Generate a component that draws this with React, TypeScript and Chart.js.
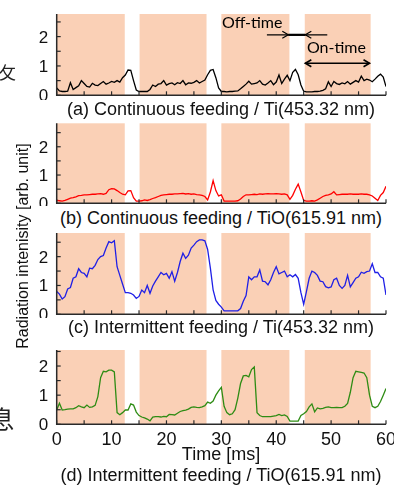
import React, { useEffect, useRef } from 'react';
import { Chart, registerables } from 'chart.js';

Chart.register(...registerables);

// ---------- data ----------
const TIME = [
  0, 0.5, 1, 1.5, 2, 2.5, 3, 3.5, 4, 4.5,
  5, 5.5, 6, 6.5, 7, 7.5, 8, 8.5, 9, 9.5,
  10, 10.5, 11, 11.5, 12, 12.5, 13, 13.5, 14, 14.5,
  15, 15.5, 16, 16.5, 17, 17.5, 18, 18.5, 19, 19.5,
  20, 20.5, 21, 21.5, 22, 22.5, 23, 23.5, 24, 24.5,
  25, 25.5, 26, 26.5, 27, 27.5, 28, 28.5, 29, 29.5,
  30, 30.5, 31, 31.5, 32, 32.5, 33, 33.5, 34, 34.5,
  35, 35.5, 36, 36.5, 37, 37.5, 38, 38.5, 39, 39.5,
  40, 40.5, 41, 41.5, 42, 42.5, 43, 43.5, 44, 44.5,
  45, 45.5, 46, 46.5, 47, 47.5, 48, 48.5, 49, 49.5,
  50, 50.5, 51, 51.5, 52, 52.5, 53, 53.5, 54, 54.5,
  55, 55.5, 56, 56.5, 57, 57.5, 58, 58.5, 59, 59.5,
  60,
];

const TI_CONTINUOUS = [
  0.25, 0.15, 0.13, 0.13, 0.14, 0.43, 0.2, 0.26, 0.32, 0.5,
  0.4, 0.3, 0.28, 0.41, 0.35, 0.33, 0.4, 0.47, 0.38, 0.42,
  0.47, 0.44, 0.5, 0.45, 0.6, 0.69, 0.86, 0.85, 0.5, 0.18,
  0.13, 0.13, 0.13, 0.13, 0.2, 0.35, 0.3, 0.38, 0.4, 0.5,
  0.35, 0.4, 0.42, 0.36, 0.43, 0.4, 0.5, 0.36, 0.42, 0.41,
  0.44, 0.5, 0.42, 0.47, 0.52, 0.7, 0.85, 0.88, 0.6, 0.25,
  0.13, 0.13, 0.12, 0.13, 0.13, 0.14, 0.15, 0.22, 0.3, 0.38,
  0.48, 0.38, 0.4, 0.42, 0.5, 0.38, 0.35, 0.42, 0.5, 0.36,
  0.45, 0.69, 0.4, 0.55, 0.68, 0.5, 0.78, 0.88, 0.7, 0.35,
  0.14, 0.12, 0.12, 0.12, 0.13, 0.13, 0.14, 0.17, 0.22, 0.46,
  0.3, 0.47, 0.4, 0.37, 0.42, 0.39, 0.47, 0.38, 0.44, 0.5,
  0.45, 0.65, 0.5, 0.55, 0.52, 0.46, 0.55, 0.65, 0.72, 0.62,
  0.3,
];

const TIO_CONTINUOUS = [
  0.1, 0.09, 0.08, 0.1, 0.14, 0.18, 0.2, 0.23, 0.27, 0.28,
  0.3, 0.3, 0.31, 0.32, 0.32, 0.33, 0.34, 0.32, 0.35, 0.48,
  0.52, 0.51, 0.45, 0.38, 0.32, 0.3, 0.44, 0.45, 0.2, 0.08,
  0.08, 0.09, 0.12, 0.1, 0.13, 0.17, 0.2, 0.24, 0.28, 0.3,
  0.31, 0.32, 0.32, 0.33, 0.33, 0.34, 0.35, 0.33, 0.34, 0.32,
  0.33, 0.31, 0.3, 0.28, 0.24, 0.12, 0.4, 0.8, 0.45, 0.26,
  0.3, 0.08, 0.08, 0.08, 0.08, 0.08, 0.09, 0.15, 0.24, 0.3,
  0.3, 0.31, 0.32, 0.31, 0.33, 0.32, 0.33, 0.34, 0.33, 0.33,
  0.34, 0.33, 0.32, 0.33, 0.3, 0.14, 0.28, 0.5, 0.68, 0.4,
  0.1, 0.08, 0.08, 0.09, 0.08, 0.12, 0.18, 0.24, 0.28, 0.3,
  0.33, 0.41, 0.3, 0.31, 0.32, 0.32, 0.32, 0.33, 0.32, 0.32,
  0.32, 0.33, 0.32, 0.32, 0.3, 0.26, 0.18, 0.1, 0.28, 0.38,
  0.6,
];

const TI_INTERMITTENT = [
  0.79, 0.7, 0.53, 0.61, 0.88, 0.93, 1.25, 1.3, 1.58, 1.45,
  1.42, 1.3, 1.6, 1.58, 1.7, 1.9, 2.0, 2.04, 2.3, 2.52,
  2.48, 2.55, 1.65, 1.35, 1.05, 0.75, 0.75, 0.73, 0.67, 0.55,
  0.62, 0.84, 0.75, 1.0, 0.73, 0.98, 1.15, 1.3, 1.45, 1.37,
  1.42, 1.25, 1.48, 1.15, 1.45, 1.83, 2.12, 1.94, 2.05, 2.3,
  2.4, 2.52, 2.58, 2.58, 2.55, 2.25, 1.6, 0.85, 0.48, 0.35,
  0.25, 0.12, 0.12, 0.12, 0.12, 0.12, 0.12, 0.2, 0.45, 0.65,
  1.3, 1.2, 1.3, 1.3, 1.54, 1.15, 1.13, 1.02, 1.2, 1.45,
  1.65, 1.4, 1.45, 1.5, 1.3, 1.37, 1.3, 1.38, 1.25, 0.75,
  0.35, 0.79, 1.25, 1.5, 1.45, 1.35, 1.15, 1.13, 0.96, 0.92,
  0.95, 1.2, 1.25, 1.0, 0.9, 1.0, 1.35, 0.95, 1.1, 1.25,
  1.3, 1.46, 1.42, 1.48, 1.5, 1.75, 1.45, 1.45, 1.3, 1.25,
  0.67,
];

const TIO_INTERMITTENT = [
  0.49, 0.72, 0.49, 0.5, 0.52, 0.53, 0.53, 0.57, 0.64, 0.6,
  0.57, 0.66, 0.58, 0.6, 0.65, 0.95, 1.6, 1.82, 1.8, 1.86,
  1.86, 1.8, 0.4, 0.33, 0.4, 0.49, 0.49, 0.7, 0.66, 0.42,
  0.3, 0.25, 0.22, 0.18, 0.12, 0.25, 0.26, 0.26, 0.25, 0.27,
  0.26, 0.34, 0.33, 0.32, 0.38, 0.44, 0.47, 0.49, 0.52, 0.58,
  0.6, 0.58, 0.57, 0.6, 0.64, 0.76, 0.72, 0.8, 1.0, 1.15,
  1.27, 0.62, 0.4, 0.33, 0.36, 0.5, 0.9, 1.4, 1.66, 1.68,
  1.63, 1.88, 1.97, 0.4, 0.3, 0.26, 0.26, 0.26, 0.26, 0.28,
  0.3, 0.34, 0.3, 0.32, 0.27, 0.11, 0.11, 0.11, 0.11, 0.3,
  0.36, 0.44, 0.6, 0.7, 0.43, 0.56, 0.53, 0.55, 0.58, 0.6,
  0.57, 0.57, 0.58, 0.57, 0.57, 0.62, 0.72, 1.1, 1.6, 1.82,
  1.8, 1.78, 1.76, 1.6, 1.0, 0.62, 0.57, 0.62, 0.78, 1.0,
  1.23,
];

// on-time windows (ms)
const ON_START = [0, 15.1, 30.0, 45.2];
const ON_END = [12.4, 27.3, 42.4, 57.2];

const Y_TICKS = [0, 1, 2];
const Y_MINOR = [0.5, 1.5, 2.5];
const X_TICKS = [0, 10, 20, 30, 40, 50, 60];
const X_MINOR = [0, 5, 10, 15, 20, 25, 30, 35, 40, 45, 50, 55, 60];

const CAPTIONS = [
  '(a) Continuous feeding / Ti(453.32 nm)',
  '(b) Continuous feeding / TiO(615.91 nm)',
  '(c) Intermittent feeding / Ti(453.32 nm)',
  '(d) Intermittent feeding / TiO(615.91 nm)',
];
const X_TITLE = 'Time [ms]';
const Y_TITLE = 'Radiation intenisity [arb. unit]';
const OFF_LABEL = 'Off-time';
const ON_LABEL = 'On-time';

// annotation anchors in data units (panel a)
const OFF_TEXT_AT = { x: 30.1, y: 2.47 };
const ON_TEXT_AT = { x: 45.6, y: 1.61 };
const OFF_ARROW = { from: 38.3, head1: 42.2, head2: 45.3, to: 49.3, y: 2.06 };
const ON_ARROW = { from: 45.3, to: 57.0, y: 1.09 };

// ---------- layout ----------
const W = 394;
const PLOT_LEFT = 56.7;
const PLOT_RIGHT = 386;
const FONT = '"Liberation Sans", Arial, sans-serif';
const SHADE = '#FAD0B6';
const AXIS = '#2a2a2a';

type PanelCfg = {
  key: string;
  values: number[];
  color: string;
  canvasTop: number;
  canvasHeight: number;
  plotTop: number;
  plotBottom: number;
  yMax: number;
  xLabels: boolean;
  annotate: boolean;
};

const PANELS: PanelCfg[] = [
  { key: 'a', values: TI_CONTINUOUS, color: '#000000', canvasTop: 8, canvasHeight: 92, plotTop: 14, plotBottom: 95.3, yMax: 2.77, xLabels: false, annotate: true },
  { key: 'b', values: TIO_CONTINUOUS, color: '#ff0000', canvasTop: 118, canvasHeight: 88, plotTop: 123.3, plotBottom: 203.3, yMax: 2.83, xLabels: false, annotate: false },
  { key: 'c', values: TI_INTERMITTENT, color: '#1f1fe6', canvasTop: 228, canvasHeight: 90, plotTop: 233, plotBottom: 314.3, yMax: 2.82, xLabels: false, annotate: false },
  { key: 'd', values: TIO_INTERMITTENT, color: '#2e8c14', canvasTop: 345, canvasHeight: 110, plotTop: 350, plotBottom: 424.3, yMax: 2.55, xLabels: true, annotate: false },
];

function arrowHead(ctx: CanvasRenderingContext2D, x: number, y: number, dir: number) {
  ctx.beginPath();
  ctx.moveTo(x - dir * 6, y - 3.5);
  ctx.lineTo(x, y);
  ctx.lineTo(x - dir * 6, y + 3.5);
  ctx.stroke();
}

function makePlugin(cfg: PanelCfg) {
  return {
    id: 'decor_' + cfg.key,
    beforeDatasetsDraw(chart: any) {
      const { ctx, chartArea, scales } = chart;
      const xs = scales.x, ys = scales.y;
      ctx.save();
      ctx.fillStyle = SHADE;
      for (let i = 0; i < ON_START.length; i++) {
        const x0 = xs.getPixelForValue(ON_START[i]);
        const x1 = xs.getPixelForValue(ON_END[i]);
        const y0 = ys.getPixelForValue(0);
        const y1 = ys.getPixelForValue(cfg.yMax);
        ctx.fillRect(x0, y1, x1 - x0, y0 - y1);
      }
      ctx.restore();
    },
    afterDatasetsDraw(chart: any) {
      const { ctx, chartArea, scales } = chart;
      const xs = scales.x, ys = scales.y;
      const L = chartArea.left, R = chartArea.right, T = chartArea.top, B = chartArea.bottom;
      ctx.save();
      ctx.strokeStyle = AXIS;
      ctx.lineWidth = 1.5;
      ctx.beginPath();
      ctx.moveTo(L, T);
      ctx.lineTo(L, B);
      ctx.lineTo(R, B);
      ctx.stroke();
      ctx.lineWidth = 1.2;
      // y ticks
      [...Y_TICKS, ...Y_MINOR].forEach((v) => {
        if (v > cfg.yMax) return;
        const y = ys.getPixelForValue(v);
        ctx.beginPath();
        ctx.moveTo(L, y);
        ctx.lineTo(L + 4, y);
        ctx.stroke();
      });
      // x ticks
      X_MINOR.forEach((v) => {
        const x = xs.getPixelForValue(v);
        ctx.beginPath();
        ctx.moveTo(x, B);
        ctx.lineTo(x, B - 4);
        ctx.stroke();
      });
      // y labels
      ctx.fillStyle = '#111';
      ctx.font = `17px ${FONT}`;
      ctx.textAlign = 'right';
      ctx.textBaseline = 'alphabetic';
      Y_TICKS.forEach((v) => {
        const y = ys.getPixelForValue(v);
        ctx.fillText(String(v), L - 8.5, y + 6);
      });
      if (cfg.xLabels) {
        ctx.font = `18px ${FONT}`;
        ctx.textAlign = 'center';
        X_TICKS.forEach((v) => {
          const x = xs.getPixelForValue(v);
          ctx.fillText(String(v), x, B + 20.5);
        });
      }
      if (cfg.annotate) {
        ctx.fillStyle = '#000';
        ctx.strokeStyle = '#000';
        ctx.font = `16px Lato, "Open Sans", sans-serif`;
        ctx.textAlign = 'left';
        ctx.textBaseline = 'middle';
        ctx.fillText(OFF_LABEL, xs.getPixelForValue(OFF_TEXT_AT.x), ys.getPixelForValue(OFF_TEXT_AT.y));
        ctx.fillText(ON_LABEL, xs.getPixelForValue(ON_TEXT_AT.x), ys.getPixelForValue(ON_TEXT_AT.y));
        // off-time arrows
        const ya = ys.getPixelForValue(OFF_ARROW.y);
        const xf = xs.getPixelForValue(OFF_ARROW.from);
        const xh1 = xs.getPixelForValue(OFF_ARROW.head1);
        const xh2 = xs.getPixelForValue(OFF_ARROW.head2);
        const xt = xs.getPixelForValue(OFF_ARROW.to);
        ctx.lineWidth = 1.2;
        ctx.beginPath();
        ctx.moveTo(xf, ya);
        ctx.lineTo(xt, ya);
        ctx.stroke();
        ctx.lineWidth = 2.2;
        ctx.beginPath();
        ctx.moveTo(xh1, ya);
        ctx.lineTo(xh2, ya);
        ctx.stroke();
        ctx.lineWidth = 1.2;
        arrowHead(ctx, xh1, ya, 1);
        arrowHead(ctx, xh2, ya, -1);
        // on-time double arrow
        const yb = ys.getPixelForValue(ON_ARROW.y);
        const xa = xs.getPixelForValue(ON_ARROW.from);
        const xb = xs.getPixelForValue(ON_ARROW.to);
        ctx.lineWidth = 1.6;
        ctx.beginPath();
        ctx.moveTo(xa, yb);
        ctx.lineTo(xb, yb);
        ctx.stroke();
        arrowHead(ctx, xa, yb, -1);
        arrowHead(ctx, xb, yb, 1);
      }
      ctx.restore();
    },
  };
}

function Panel({ cfg }: { cfg: PanelCfg }) {
  const ref = useRef<HTMLCanvasElement>(null);
  useEffect(() => {
    const chart = new Chart(ref.current as HTMLCanvasElement, {
      type: 'line',
      data: {
        datasets: [
          {
            data: TIME.map((t, i) => ({ x: t, y: cfg.values[i] })),
            borderColor: cfg.color,
            borderWidth: 1.3,
            pointRadius: 0,
            tension: 0,
            fill: false,
          },
        ],
      },
      options: {
        animation: false,
        responsive: false,
        maintainAspectRatio: false,
        devicePixelRatio: 1,
        events: [],
        layout: {
          padding: {
            left: PLOT_LEFT,
            right: W - PLOT_RIGHT,
            top: cfg.plotTop - cfg.canvasTop,
            bottom: cfg.canvasTop + cfg.canvasHeight - cfg.plotBottom,
          },
        },
        scales: {
          x: { type: 'linear', min: 0, max: 60, display: false },
          y: { type: 'linear', min: 0, max: cfg.yMax, display: false },
        },
        plugins: { legend: { display: false }, tooltip: { enabled: false } },
      } as any,
      plugins: [makePlugin(cfg)],
    });
    return () => chart.destroy();
  }, []);
  return (
    <canvas
      ref={ref}
      width={W}
      height={cfg.canvasHeight}
      style={{ position: 'absolute', left: 0, top: cfg.canvasTop, width: W, height: cfg.canvasHeight }}
    />
  );
}

const captionStyle = (capMid: number): React.CSSProperties => ({
  position: 'absolute',
  left: 0,
  width: 442,
  top: capMid - 9.85,
  height: 20,
  lineHeight: '20px',
  fontSize: 18,
  fontFamily: FONT,
  textAlign: 'center',
  whiteSpace: 'nowrap',
  color: '#111',
});

export default function App() {
  return (
    <div style={{ position: 'fixed', left: 0, top: 0, width: W, height: 485, background: '#fff', overflow: 'hidden' }}>
      {PANELS.map((p) => (
        <Panel key={p.key} cfg={p} />
      ))}
      <div style={captionStyle(108.5)}>{CAPTIONS[0]}</div>
      <div style={captionStyle(218.3)}>{CAPTIONS[1]}</div>
      <div style={captionStyle(327)}>{CAPTIONS[2]}</div>
      <div style={captionStyle(454)}>{X_TITLE}</div>
      <div style={captionStyle(475)}>{CAPTIONS[3]}</div>
      <div
        style={{
          position: 'absolute',
          left: 22.5 - 150,
          top: 246 - 9,
          width: 300,
          height: 18,
          lineHeight: '18px',
          fontSize: 16,
          fontFamily: FONT,
          textAlign: 'center',
          whiteSpace: 'nowrap',
          transform: 'rotate(-90deg)',
          color: '#111',
        }}
      >
        {Y_TITLE}
      </div>
      <div style={{ position: 'absolute', left: -1, top: 63, fontSize: 17, lineHeight: '17px', fontFamily: '"Noto Sans CJK JP"', color: '#222' }}>攵</div>
      <div style={{ position: 'absolute', left: -10, top: 406, fontSize: 24, lineHeight: '24px', fontFamily: '"Noto Sans CJK JP"', color: '#222' }}>息</div>
    </div>
  );
}
